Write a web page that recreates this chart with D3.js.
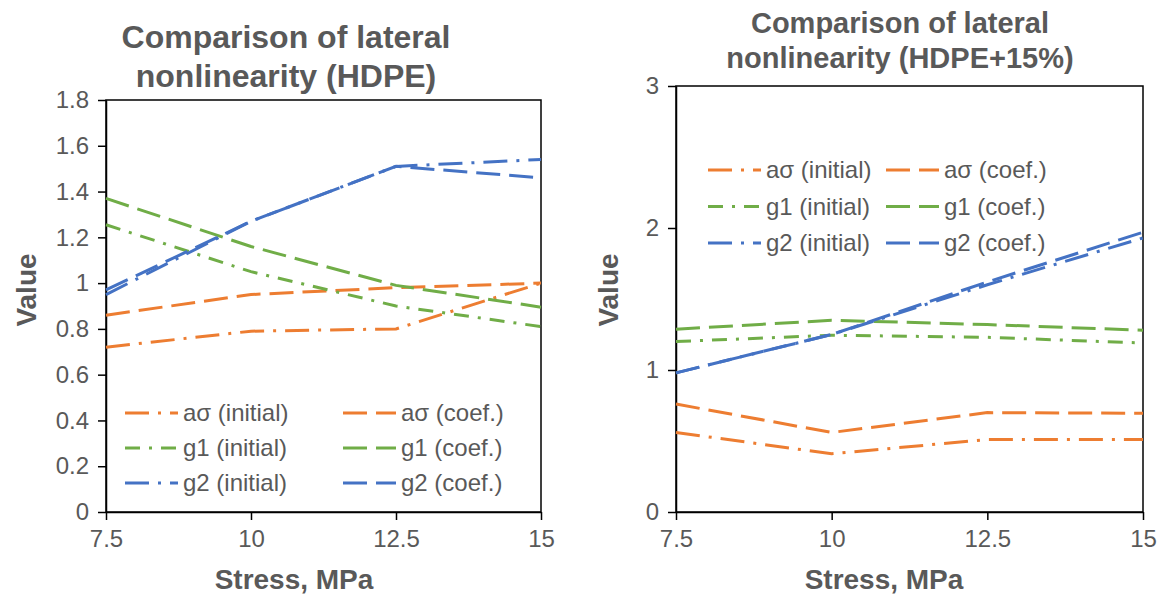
<!DOCTYPE html>
<html>
<head>
<meta charset="utf-8">
<script src="https://cdn.jsdelivr.net/npm/d3@7"></script>
<style>
    body { margin: 0; background: #fff; }
    svg { display: block; font-family: "Liberation Sans", Arial, sans-serif; }
    .tick text { fill: #595959; }
</style>
</head>
<body>
<svg id="chart" width="1164" height="597"></svg>
<script>
// stress levels on the x axis
let stress = [7.5, 10, 12.5, 15]
let xTicks = [7.5, 10, 12.5, 15]

// HDPE
let hdpeAsInitial = [0.72, 0.79, 0.80, 1.00]
let hdpeAsCoef = [0.86, 0.95, 0.98, 1.00]
let hdpeG1Initial = [1.255, 1.05, 0.90, 0.81]
let hdpeG1Coef = [1.37, 1.16, 0.99, 0.895]
let hdpeG2Initial = [0.95, 1.27, 1.51, 1.54]
let hdpeG2Coef = [0.97, 1.27, 1.51, 1.46]
let hdpeYTicks = [0, 0.2, 0.4, 0.6, 0.8, 1, 1.2, 1.4, 1.6, 1.8]

// HDPE+15%
let mixAsInitial = [0.56, 0.41, 0.51, 0.51]
let mixAsCoef = [0.76, 0.56, 0.70, 0.695]
let mixG1Initial = [1.20, 1.245, 1.23, 1.19]
let mixG1Coef = [1.287, 1.35, 1.32, 1.28]
let mixG2Initial = [0.98, 1.25, 1.60, 1.93]
let mixG2Coef = [0.98, 1.25, 1.62, 1.97]
let mixYTicks = [0, 1, 2, 3]

let seriesNames = ["aσ (initial)", "aσ (coef.)", "g1 (initial)", "g1 (coef.)", "g2 (initial)", "g2 (coef.)"]

let orange = "#ED7D31", green = "#70AD47", blue = "#4472C4"
let styles = [
    {color: orange, dash: "24 9 3 9"},
    {color: orange, dash: "24 9"},
    {color: green, dash: "15 9 3 9"},
    {color: green, dash: "24 9"},
    {color: blue, dash: "24 9 3 9"},
    {color: blue, dash: "24 9"}
]

let svg = d3.select("#chart")

function drawChart(cfg) {
    let g = svg.append("g")
    let scaleX = d3.scaleLinear().domain([7.5, 15]).range([cfg.left, cfg.right])
    let scaleY = d3.scaleLinear().domain([0, cfg.yMax]).range([cfg.bottom, cfg.top])

    // title
    let title = g.append("text")
        .attr("x", cfg.titleX)
        .attr("text-anchor", "middle")
        .style("font-weight", "bold")
        .style("font-size", cfg.titleSize + "px")
        .style("fill", "#595959")
    cfg.titleLines.forEach((t, i) => {
        title.append("tspan").attr("x", cfg.titleX).attr("y", cfg.titleY[i]).text(t)
    })

    // plot border
    g.append("rect")
        .attr("x", cfg.left).attr("y", cfg.top)
        .attr("width", cfg.right - cfg.left).attr("height", cfg.bottom - cfg.top)
        .attr("fill", "none").attr("stroke", "#000").attr("stroke-width", 1.5)

    // axes
    let axisY = d3.axisLeft(scaleY).tickValues(cfg.yTicks).tickSize(8).tickSizeOuter(0).tickPadding(9).tickFormat(d => String(d))
    let axisX = d3.axisBottom(scaleX).tickValues(xTicks).tickSize(8).tickSizeOuter(0).tickPadding(10).tickFormat(d => String(d))

    let gy = g.append("g").attr("transform", `translate(${cfg.left},0)`).call(axisY)
    let gx = g.append("g").attr("transform", `translate(0,${cfg.bottom})`).call(axisX)
    for (let ax of [gx, gy]) {
        ax.selectAll("path, line").attr("stroke", "#000").attr("stroke-width", 1.5)
        ax.selectAll("text").style("font-size", "24px").style("font-family", "Liberation Sans, Arial, sans-serif")
    }

    // axis titles
    g.append("text")
        .attr("x", cfg.xTitleX).attr("y", cfg.xTitleY)
        .attr("text-anchor", "middle")
        .style("font-weight", "bold").style("font-size", "28px").style("fill", "#595959")
        .text("Stress, MPa")
    g.append("text")
        .attr("transform", `translate(${cfg.yTitleX},${cfg.yTitleY}) rotate(-90)`)
        .attr("text-anchor", "middle")
        .style("font-weight", "bold").style("font-size", "28px").style("fill", "#595959")
        .text("Value")

    // lines
    let line = d3.line()
        .x((d, i) => scaleX(stress[i]))
        .y(d => scaleY(d))

    cfg.series.forEach((values, i) => {
        g.append("path")
            .datum(values)
            .attr("d", line)
            .attr("fill", "none")
            .attr("stroke", styles[i].color)
            .attr("stroke-width", 3)
            .attr("stroke-dasharray", styles[i].dash)
    })

    // legend, two columns
    seriesNames.forEach((name, i) => {
        let col = i % 2
        let row = Math.floor(i / 2)
        let lx = cfg.legendX[col]
        let ly = cfg.legendY + row * cfg.legendStep
        g.append("line")
            .attr("x1", lx).attr("x2", lx + 53)
            .attr("y1", ly).attr("y2", ly)
            .attr("stroke", styles[i].color)
            .attr("stroke-width", 3)
            .attr("stroke-dasharray", styles[i].dash)
        g.append("text")
            .attr("x", lx + 58).attr("y", ly + 8)
            .style("font-size", "24px").style("fill", "#595959")
            .text(name)
    })
}

drawChart({
    left: 106, right: 541, top: 100, bottom: 512,
    yMax: 1.8, yTicks: hdpeYTicks,
    titleLines: ["Comparison of lateral", "nonlinearity (HDPE)"],
    titleX: 286, titleY: [48, 87], titleSize: 32,
    xTitleX: 294, xTitleY: 589,
    yTitleX: 36, yTitleY: 290,
    series: [hdpeAsInitial, hdpeAsCoef, hdpeG1Initial, hdpeG1Coef, hdpeG2Initial, hdpeG2Coef],
    legendX: [125, 343], legendY: 413, legendStep: 35
})

drawChart({
    left: 676, right: 1143, top: 86, bottom: 512,
    yMax: 3, yTicks: mixYTicks,
    titleLines: ["Comparison of lateral", "nonlinearity (HDPE+15%)"],
    titleX: 900, titleY: [33, 68], titleSize: 29,
    xTitleX: 884, xTitleY: 589,
    yTitleX: 618, yTitleY: 290,
    series: [mixAsInitial, mixAsCoef, mixG1Initial, mixG1Coef, mixG2Initial, mixG2Coef],
    legendX: [708, 886], legendY: 170, legendStep: 36.5
})
</script>
</body>
</html>
